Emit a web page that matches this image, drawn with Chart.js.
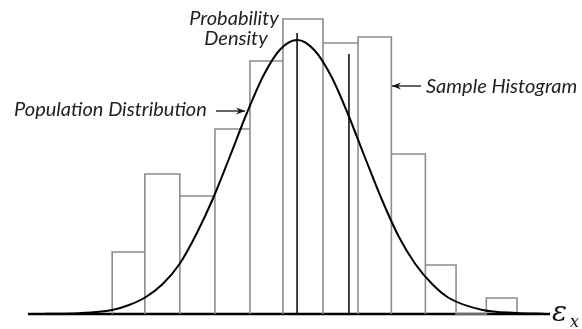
<!DOCTYPE html>
<html>
<head>
<meta charset="utf-8">
<script src="https://cdn.jsdelivr.net/npm/chart.js@4.4.1/dist/chart.umd.min.js"></script>
<style>
  html, body { margin: 0; padding: 0; background: #fff; }
  #wrap { width: 582px; height: 329px; position: relative; }
</style>
</head>
<body>
<div id="wrap"><canvas id="histChart"></canvas></div>
<script>
// bin edges (strain units) and sample counts per bin
const binEdges = [0, 0.97, 2.01, 3.05, 4.09, 5.07, 6.26, 7.30, 8.29, 9.30, 10.21, 11.11, 12.02];
const binHeights = [6.2, 14.0, 11.8, 18.5, 25.3, 29.5, 27.1, 27.7, 16.0, 4.9, 0, 1.6];

// population distribution
const curveX = [-2.0, -1.0, 0, 0.5, 1.0, 1.5, 2.0, 2.5, 3.0, 3.5, 4.0, 4.5, 5.0, 5.5, 6.0, 6.5, 7.0, 7.5, 8.0, 8.5, 9.0, 9.5, 10.0, 11.0, 12.0, 12.8];
const curveY = [0.02, 0.08, 0.4, 0.9, 1.7, 3.0, 5.0, 8.0, 11.6, 15.8, 20.1, 23.9, 26.5, 27.4, 26.4, 23.8, 20.0, 15.7, 11.5, 7.8, 5.0, 3.0, 1.6, 0.4, 0.1, 0.02];

// population mean and sample mean markers
const meanX = [5.49, 7.03];
const meanTop = [28.1, 26.0];

// histogram outline: every bar goes back down to the baseline
const histPoints = [];
binHeights.forEach((h, i) => {
    histPoints.push({ x: binEdges[i], y: 0 });
    histPoints.push({ x: binEdges[i], y: h });
    histPoints.push({ x: binEdges[i + 1], y: h });
    histPoints.push({ x: binEdges[i + 1], y: 0 });
});

const curvePoints = curveX.map((x, i) => ({ x: x, y: curveY[i] }));

const meanSets = meanX.map((x, i) => ({
    data: [{ x: x, y: 0 }, { x: x, y: meanTop[i] }],
    borderColor: '#000',
    borderWidth: 1.5,
    showLine: true,
    pointRadius: 0,
    clip: false,
    order: 0
}));

// labels, arrows and the axis symbol
const annotate = {
    id: 'annotate',
    beforeDatasetsDraw(chart) {
        const { ctx, chartArea, scales } = chart;
        const y0 = scales.y.getPixelForValue(0);
        ctx.save();
        ctx.strokeStyle = '#000';
        ctx.lineWidth = 2.5;
        ctx.beginPath();
        ctx.moveTo(chartArea.left, y0);
        ctx.lineTo(chartArea.right, y0);
        ctx.stroke();
        ctx.restore();
    },
    afterDraw(chart) {
        const ctx = chart.ctx;
        ctx.save();
        ctx.fillStyle = '#222';
        ctx.font = 'italic 20px Lato';
        ctx.textBaseline = 'alphabetic';
        ctx.textAlign = 'center';
        ctx.fillText('Probability', 234, 25);
        ctx.fillText('Density', 236, 45);
        ctx.textAlign = 'left';
        ctx.fillText('Population Distribution', 14, 116);
        ctx.fillText('Sample Histogram', 426, 93);

        const arrow = (x1, x2, y) => {
            ctx.strokeStyle = '#111';
            ctx.lineWidth = 1.3;
            ctx.beginPath();
            ctx.moveTo(x1, y);
            ctx.lineTo(x2, y);
            ctx.stroke();
            const dir = Math.sign(x2 - x1);
            ctx.beginPath();
            ctx.moveTo(x2, y);
            ctx.lineTo(x2 - dir * 9, y - 3.5);
            ctx.lineTo(x2 - dir * 6, y);
            ctx.lineTo(x2 - dir * 9, y + 3.5);
            ctx.closePath();
            ctx.fillStyle = '#111';
            ctx.fill();
        };
        arrow(216, 245, 111);
        arrow(421, 392, 86);

        ctx.fillStyle = '#111';
        ctx.font = 'italic 28px "DejaVu Serif"';
        ctx.fillText('\u03b5', 552, 321);
        ctx.font = 'italic 16px "DejaVu Serif"';
        ctx.fillText('x', 570, 327);
        ctx.restore();
    }
};

new Chart(document.getElementById('histChart'), {
    type: 'scatter',
    data: {
        datasets: [
            ...meanSets,
            {
                data: curvePoints,
                borderColor: '#000',
                borderWidth: 2,
                showLine: true,
                pointRadius: 0,
                cubicInterpolationMode: 'monotone',
                clip: false,
                order: 1
            },
            {
                data: histPoints,
                borderColor: '#8c8c8c',
                borderWidth: 1.6,
                showLine: true,
                pointRadius: 0,
                tension: 0,
                clip: false,
                order: 2
            }
        ]
    },
    plugins: [annotate],
    options: {
        responsive: true,
        maintainAspectRatio: false,
        animation: false,
        layout: { padding: { left: 28, right: 32, top: 0, bottom: 15 } },
        plugins: {
            legend: { display: false },
            tooltip: { enabled: false }
        },
        scales: {
            x: { type: 'linear', min: -2.5, max: 13, display: false },
            y: { min: 0, max: 31.4, display: false }
        }
    }
});
</script>
</body>
</html>
